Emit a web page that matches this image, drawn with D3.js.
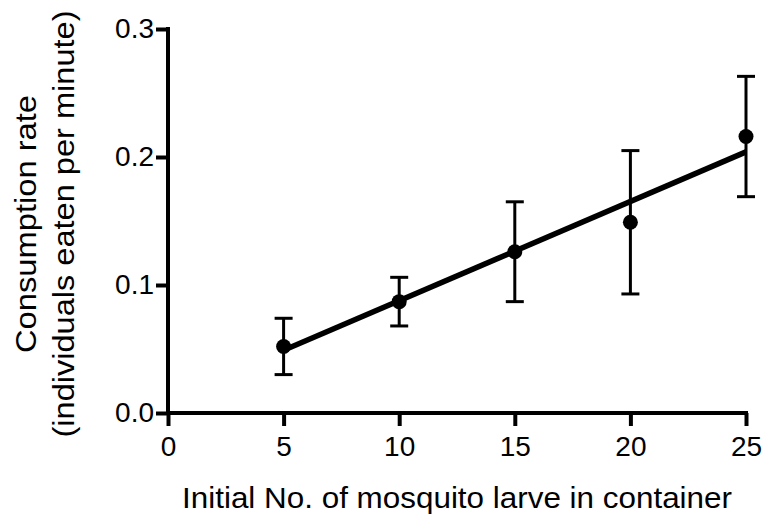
<!DOCTYPE html>
<html>
<head>
<meta charset="utf-8">
<script src="https://cdn.jsdelivr.net/npm/d3@7"></script>
<style>
  body { margin: 0; background: #fff; }
  text { font-family: "Liberation Sans", Arial, sans-serif; fill: #000; }
</style>
</head>
<body>
<div id="chart"></div>
<script>
// data
var larvae = [5, 10, 15, 20, 25];
var rate = [0.052, 0.087, 0.126, 0.149, 0.216];
var err = [0.022, 0.019, 0.039, 0.056, 0.047];
var fitLine = [[5, 0.049], [25, 0.204]];
var xTicks = [0, 5, 10, 15, 20, 25];
var yTicks = [0.0, 0.1, 0.2, 0.3];

var width = 766, height = 516;
var margin = {top: 29, right: 20, bottom: 103, left: 168};

var svg = d3.select("#chart").append("svg")
    .attr("width", width)
    .attr("height", height);

var x = d3.scaleLinear().domain([0, 25]).range([margin.left, width - margin.right]);
var y = d3.scaleLinear().domain([0, 0.3]).range([height - margin.bottom, margin.top]);

// axes
var xAxis = svg.append("g")
    .attr("transform", "translate(0," + y(0) + ")")
    .call(d3.axisBottom(x).tickValues(xTicks).tickSize(13).tickPadding(10).tickFormat(d3.format("d")));
var yAxis = svg.append("g")
    .attr("transform", "translate(" + x(0) + ",0)")
    .call(d3.axisLeft(y).tickValues(yTicks).tickSize(12).tickPadding(2).tickFormat(d3.format(".1f")));

[xAxis, yAxis].forEach(function (a) {
    a.select(".domain").attr("stroke", "#000").attr("stroke-width", 4).attr("stroke-linecap", "square");
    a.selectAll(".tick line").attr("stroke", "#000").attr("stroke-width", 4);
    a.selectAll(".tick text").style("font-size", "28px").attr("fill", "#000");
});
xAxis.select(".domain").attr("d", "M" + x(0) + ",0H" + x(25));
yAxis.select(".domain").attr("d", "M0," + y(0.3) + "V" + y(0));

// fitted line
svg.append("path")
    .attr("d", d3.line().x(function (d) { return x(d[0]); }).y(function (d) { return y(d[1]); })(fitLine))
    .attr("stroke", "#000")
    .attr("stroke-width", 5.5)
    .attr("fill", "none");

// error bars
var pts = larvae.map(function (v, i) { return {x: v, y: rate[i], e: err[i]}; });
var eb = svg.append("g").selectAll("g").data(pts).enter().append("g")
    .attr("stroke", "#000").attr("stroke-width", 3);
eb.append("line")
    .attr("x1", function (d) { return x(d.x); }).attr("x2", function (d) { return x(d.x); })
    .attr("y1", function (d) { return y(d.y - d.e); }).attr("y2", function (d) { return y(d.y + d.e); });
eb.append("line")
    .attr("x1", function (d) { return x(d.x) - 9; }).attr("x2", function (d) { return x(d.x) + 9; })
    .attr("y1", function (d) { return y(d.y + d.e); }).attr("y2", function (d) { return y(d.y + d.e); });
eb.append("line")
    .attr("x1", function (d) { return x(d.x) - 9; }).attr("x2", function (d) { return x(d.x) + 9; })
    .attr("y1", function (d) { return y(d.y - d.e); }).attr("y2", function (d) { return y(d.y - d.e); });

svg.append("g").selectAll("circle").data(pts).enter().append("circle")
    .attr("cx", function (d) { return x(d.x); })
    .attr("cy", function (d) { return y(d.y); })
    .attr("r", 7.5)
    .attr("fill", "#000");

// titles
svg.append("text")
    .attr("x", (x(0) + x(25)) / 2)
    .attr("y", 508)
    .attr("text-anchor", "middle")
    .style("font-size", "30px")
    .attr("textLength", 550)
    .attr("lengthAdjust", "spacingAndGlyphs")
    .text("Initial No. of mosquito larve in container");

var yc = (y(0) + y(0.3)) / 2 + 3;
svg.append("text")
    .attr("transform", "translate(36," + yc + ") rotate(-90)")
    .attr("text-anchor", "middle")
    .style("font-size", "30px")
    .attr("textLength", 258)
    .attr("lengthAdjust", "spacingAndGlyphs")
    .text("Consumption rate");
svg.append("text")
    .attr("transform", "translate(74," + yc + ") rotate(-90)")
    .attr("text-anchor", "middle")
    .style("font-size", "30px")
    .attr("textLength", 427)
    .attr("lengthAdjust", "spacingAndGlyphs")
    .text("(individuals eaten per minute)");
</script>
</body>
</html>
